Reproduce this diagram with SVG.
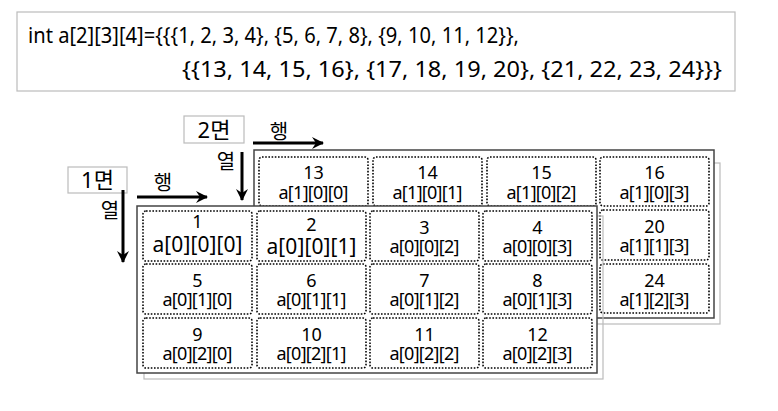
<svg xmlns="http://www.w3.org/2000/svg" width="778" height="411" viewBox="0 0 778 411">
<defs>
<marker id="ah" markerUnits="userSpaceOnUse" markerWidth="14" markerHeight="14" viewBox="0 0 14 14" refX="12" refY="7" orient="auto">
<path d="M1,1 L13,7 L1,13 L5,7 Z" fill="#000"/>
</marker>
<style>
text{font-family:"Noto Sans","Noto Sans CJK KR",sans-serif;fill:#000;}
.code{font-size:22px;}
.num{font-size:18px;text-anchor:middle;}
.lab{font-size:18px;text-anchor:middle;}
.big{font-size:21px;text-anchor:middle;}
.kr{font-size:20px;text-anchor:middle;}
.krb{font-size:22px;text-anchor:middle;}
.cell{fill:#fff;stroke:#000;stroke-width:1.6;stroke-dasharray:1.6 1.6;}
.frame{fill:#fff;stroke:#444;stroke-width:1.5;}
.shadow{fill:none;stroke:#bbb;stroke-width:1.2;}
.lbox{fill:#fff;stroke:#bbb;stroke-width:1.2;}
.arr{stroke:#000;stroke-width:3;fill:none;}
</style>
</defs>
<rect width="778" height="411" fill="#fff"/>

<g id="code">
<rect x="17" y="12" width="718" height="79" fill="#fff" stroke="#bbb" stroke-width="1.2"/>
<text class="code" x="28" y="43" textLength="491" lengthAdjust="spacingAndGlyphs">int a[2][3][4]={{{1, 2, 3, 4}, {5, 6, 7, 8}, {9, 10, 11, 12}},</text>
<text class="code" x="182" y="77" textLength="540" lengthAdjust="spacingAndGlyphs">{{13, 14, 15, 16}, {17, 18, 19, 20}, {21, 22, 23, 24}}}</text>
</g>

<g id="plane2">
<rect class="shadow" x="260" y="163" width="460" height="161"/>
<rect class="frame" x="254" y="150" width="460" height="168"/>
<g id="c13"><rect class="cell" x="259" y="157" width="109" height="49" rx="3"/><text class="num" x="313.5" y="179">13</text><text class="lab" x="313.5" y="199" textLength="70">a[1][0][0]</text></g>
<g id="c14"><rect class="cell" x="373" y="157" width="109" height="49" rx="3"/><text class="num" x="427.5" y="179">14</text><text class="lab" x="427.5" y="199" textLength="70">a[1][0][1]</text></g>
<g id="c15"><rect class="cell" x="487" y="157" width="109" height="49" rx="3"/><text class="num" x="541.5" y="179">15</text><text class="lab" x="541.5" y="199" textLength="70">a[1][0][2]</text></g>
<g id="c16"><rect class="cell" x="600" y="157" width="109" height="49" rx="3"/><text class="num" x="654.5" y="179">16</text><text class="lab" x="654.5" y="199" textLength="70">a[1][0][3]</text></g>
<g id="c20"><rect class="cell" x="600" y="210" width="109" height="50" rx="3"/><text class="num" x="654.5" y="233">20</text><text class="lab" x="654.5" y="252" textLength="70">a[1][1][3]</text></g>
<g id="c24"><rect class="cell" x="600" y="264" width="109" height="49" rx="3"/><text class="num" x="654.5" y="287">24</text><text class="lab" x="654.5" y="306" textLength="70">a[1][2][3]</text></g>
</g>

<g id="plane1">
<rect class="shadow" x="144" y="216" width="459" height="163"/>
<rect class="frame" x="137" y="206" width="460" height="167"/>
<g id="c1"><rect class="cell" x="143" y="211" width="109" height="50" rx="3"/><text class="num" x="197.5" y="228">1</text><text class="big" x="197.5" y="252" textLength="90">a[0][0][0]</text></g>
<g id="c2"><rect class="cell" x="257" y="211" width="109" height="50" rx="3"/><text class="num" x="311.5" y="231">2</text><text class="big" x="311.5" y="254" textLength="90">a[0][0][1]</text></g>
<g id="c3"><rect class="cell" x="370" y="211" width="109" height="50" rx="3"/><text class="num" x="424.5" y="234">3</text><text class="lab" x="424.5" y="253" textLength="70">a[0][0][2]</text></g>
<g id="c4"><rect class="cell" x="483" y="211" width="109" height="50" rx="3"/><text class="num" x="537.5" y="234">4</text><text class="lab" x="537.5" y="253" textLength="70">a[0][0][3]</text></g>
<g id="c5"><rect class="cell" x="143" y="264" width="109" height="50" rx="3"/><text class="num" x="197.5" y="287">5</text><text class="lab" x="197.5" y="306" textLength="70">a[0][1][0]</text></g>
<g id="c6"><rect class="cell" x="257" y="264" width="109" height="50" rx="3"/><text class="num" x="311.5" y="287">6</text><text class="lab" x="311.5" y="306" textLength="70">a[0][1][1]</text></g>
<g id="c7"><rect class="cell" x="370" y="264" width="109" height="50" rx="3"/><text class="num" x="424.5" y="287">7</text><text class="lab" x="424.5" y="306" textLength="70">a[0][1][2]</text></g>
<g id="c8"><rect class="cell" x="483" y="264" width="109" height="50" rx="3"/><text class="num" x="537.5" y="287">8</text><text class="lab" x="537.5" y="306" textLength="70">a[0][1][3]</text></g>
<g id="c9"><rect class="cell" x="143" y="318" width="109" height="50" rx="3"/><text class="num" x="197.5" y="341">9</text><text class="lab" x="197.5" y="360" textLength="70">a[0][2][0]</text></g>
<g id="c10"><rect class="cell" x="257" y="318" width="109" height="50" rx="3"/><text class="num" x="311.5" y="341">10</text><text class="lab" x="311.5" y="360" textLength="70">a[0][2][1]</text></g>
<g id="c11"><rect class="cell" x="370" y="318" width="109" height="50" rx="3"/><text class="num" x="424.5" y="341">11</text><text class="lab" x="424.5" y="360" textLength="70">a[0][2][2]</text></g>
<g id="c12"><rect class="cell" x="483" y="318" width="109" height="50" rx="3"/><text class="num" x="537.5" y="341">12</text><text class="lab" x="537.5" y="360" textLength="70">a[0][2][3]</text></g>
</g>

<g id="label2">
<rect class="lbox" x="184" y="116" width="60" height="27"/>
<text class="krb" x="214" y="138">2면</text>
</g>
<g id="label1">
<rect class="lbox" x="68" y="167" width="59" height="26"/>
<text class="krb" x="97.5" y="188">1면</text>
</g>
<g id="row2"><text class="kr" x="279" y="139">행</text></g>
<g id="col2"><text class="kr" x="226" y="169">열</text></g>
<g id="row1"><text class="kr" x="163" y="190">행</text></g>
<g id="col1"><text class="kr" x="110" y="218">열</text></g>

<g id="connectors">
<line class="arr" x1="253" y1="143" x2="323" y2="143" marker-end="url(#ah)"/>
<line class="arr" x1="242" y1="152" x2="242" y2="200" marker-end="url(#ah)"/>
<line class="arr" x1="137" y1="197" x2="207" y2="197" marker-end="url(#ah)"/>
<line class="arr" x1="123" y1="190" x2="123" y2="262" marker-end="url(#ah)"/>
</g>
</svg>
